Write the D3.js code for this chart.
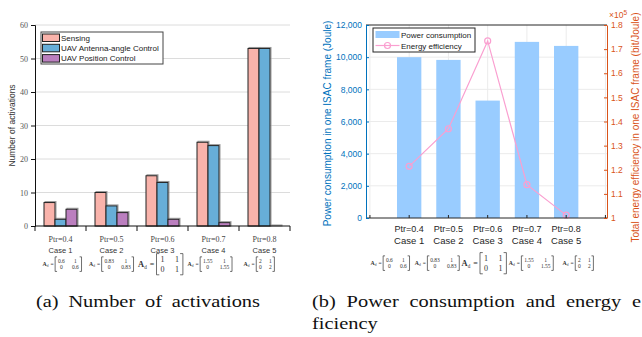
<!DOCTYPE html>
<html>
<head>
<meta charset="utf-8">
<script src="https://cdn.jsdelivr.net/npm/d3@7"></script>
<style>
  body { margin: 0; background: #fff; }
  svg { display: block; }
</style>
</head>
<body>
<svg id="chart" width="642" height="337"></svg>
<script>
// shared categories
const cases = ['Case 1', 'Case 2', 'Case 3', 'Case 4', 'Case 5'];
const ptrLabels = ['Ptr=0.4', 'Ptr=0.5', 'Ptr=0.6', 'Ptr=0.7', 'Ptr=0.8'];
// A_d matrices, row-major
const matrices = [
    ['0.6', '1', '0', '0.6'],
    ['0.83', '1', '0', '0.83'],
    ['1', '1', '0', '1'],
    ['1.55', '1', '0', '1.55'],
    ['2', '1', '0', '2']
];

// (a) number of activations
const seriesNames = ['Sensing', 'UAV Antenna-angle Control', 'UAV Position Control'];
const sensing = [7, 10, 15, 25, 53];
const antenna = [2, 6, 13, 24, 53];
const position = [5, 4, 2, 1, 0];
const activationTicks = [0, 10, 20, 30, 40, 50, 60];

// (b) power consumption + energy efficiency (x 10^5)
const power = [10000, 9830, 7300, 10950, 10700];
const efficiency = [1.214, 1.370, 1.734, 1.138, 1.012];
const powerTicks = [0, 2000, 4000, 6000, 8000, 10000, 12000];
const effTicks = [1, 1.1, 1.2, 1.3, 1.4, 1.5, 1.6, 1.7, 1.8];

const svg = d3.select('#chart');
const SANS = '"Liberation Sans", Arial, sans-serif';
const SERIF = '"Liberation Serif", "Times New Roman", serif';

// draws  A_d = [a b; c d]  centred on cx, cy
function drawMatrix(g, cx, cy, m, fs) {
    const cw = v => d3.sum(v.split(''), ch => ch === '.' ? 0.25 : 0.5) * fs;
    const col1 = Math.max(cw(m[0]), cw(m[2]));
    const col2 = Math.max(cw(m[1]), cw(m[3]));
    const labelW = fs * 2.3, gap = fs * 1.3, pad = fs * 0.5;
    const matW = pad + col1 + gap + col2 + pad;
    const x0 = cx - (labelW + matW) / 2;
    const grp = g.append('g').attr('fill', '#333').style('font-family', SERIF);

    const lab = grp.append('text').attr('x', x0).attr('y', cy + fs * 0.35)
        .style('font-size', (fs * 1.05) + 'px');
    lab.append('tspan').style('font-weight', 'bold').text('A');
    lab.append('tspan').attr('dy', fs * 0.25).style('font-size', (fs * 0.65) + 'px').text('d');
    grp.append('text').attr('x', x0 + fs * 1.45).attr('y', cy + fs * 0.35)
        .style('font-size', fs + 'px').text('=');

    const xl = x0 + labelW, xr = xl + matW;
    const top = cy - fs * 1.3, bot = cy + fs * 1.35, s = fs * 0.35;
    grp.append('path').attr('fill', 'none').attr('stroke', '#333').attr('stroke-width', 0.7)
        .attr('d', `M${xl + s},${top}H${xl}V${bot}H${xl + s}M${xr - s},${top}H${xr}V${bot}H${xr - s}`);

    const c1 = xl + pad + col1 / 2, c2 = xr - pad - col2 / 2;
    const rows = [cy - fs * 0.25, cy + fs * 0.95];
    [[c1, rows[0], m[0]], [c2, rows[0], m[1]], [c1, rows[1], m[2]], [c2, rows[1], m[3]]]
        .forEach(([x, y, t]) => grp.append('text').attr('x', x).attr('y', y)
            .attr('text-anchor', 'middle').style('font-size', fs + 'px').text(t));
}

// ################ (a) Number of activations ################
const A = { left: 35, right: 290, top: 25, bottom: 226 };
const ga = svg.append('g');

const xa = d3.scaleBand().domain(cases).range([A.left, A.right]);
const xs = d3.scaleBand().domain(seriesNames).range([9, xa.bandwidth() - 9]);
const ya = d3.scaleLinear().domain([0, 60]).range([A.bottom, A.top]);
const colorsA = ['#f9b3ab', '#67aed8', '#bb7fbf'];

// grid
ga.append('g').selectAll('line').data(activationTicks.slice(1)).enter().append('line')
    .attr('x1', A.left).attr('x2', A.right)
    .attr('y1', d => ya(d)).attr('y2', d => ya(d))
    .attr('stroke', '#dcdcdc').attr('stroke-width', 1);

const tableA = cases.map((c, i) => ({ c, vals: [sensing[i], antenna[i], position[i]] }));
const groups = ga.append('g').selectAll('g').data(tableA).enter().append('g')
    .attr('transform', d => `translate(${xa(d.c)},0)`);
// soft shadow behind each bar, then the bar
groups.selectAll('.shadow').data(d => d.vals.map((v, k) => ({ v, k }))).enter().append('rect')
    .attr('class', 'shadow')
    .attr('x', d => xs(seriesNames[d.k]) + 1)
    .attr('y', d => ya(d.v) - 1)
    .attr('width', xs.bandwidth())
    .attr('height', d => ya(0) - ya(d.v) + 1)
    .attr('fill', 'none').attr('stroke', '#999').attr('stroke-width', 1);
groups.selectAll('.bar').data(d => d.vals.map((v, k) => ({ v, k }))).enter().append('rect')
    .attr('class', 'bar')
    .attr('x', d => xs(seriesNames[d.k]))
    .attr('y', d => ya(d.v))
    .attr('width', xs.bandwidth())
    .attr('height', d => ya(0) - ya(d.v))
    .attr('fill', d => colorsA[d.k])
    .attr('stroke', '#222').attr('stroke-width', 1);

// y axis
const yAxisA = ga.append('g').attr('transform', `translate(${A.left},0)`)
    .call(d3.axisLeft(ya).tickValues(activationTicks).tickSize(4).tickPadding(3));
yAxisA.select('.domain').attr('stroke', '#111');
yAxisA.selectAll('.tick line').attr('stroke', '#111');
yAxisA.selectAll('text').style('font-family', SERIF).style('font-size', '8px').attr('fill', '#555');

// x axis: line + ticks on group boundaries
ga.append('line').attr('x1', A.left).attr('x2', A.right).attr('y1', A.bottom).attr('y2', A.bottom)
    .attr('stroke', '#111');
ga.append('g').selectAll('line').data(cases.map(c => xa(c)).concat([A.right])).enter().append('line')
    .attr('x1', d => d).attr('x2', d => d).attr('y1', A.bottom).attr('y2', A.bottom + 5)
    .attr('stroke', '#111');

cases.forEach((c, i) => {
    const cx = xa(c) + xa.bandwidth() / 2;
    ga.append('text').attr('x', cx).attr('y', 242).attr('text-anchor', 'middle')
        .style('font-family', SERIF).style('font-size', '8px').attr('fill', '#444').text(ptrLabels[i]);
    ga.append('text').attr('x', cx).attr('y', 253).attr('text-anchor', 'middle')
        .style('font-family', SANS).style('font-size', '7.5px').attr('fill', '#333').text(c);
});
const mxA = d3.scalePoint().domain(cases).range([62, 259]);
cases.forEach((c, i) => drawMatrix(ga, mxA(c), 264, matrices[i], i === 2 ? 8 : 5.5));

ga.append('text').attr('transform', `translate(15,${(A.top + A.bottom) / 2}) rotate(-90)`)
    .attr('text-anchor', 'middle').style('font-family', SANS).style('font-size', '8.5px')
    .attr('fill', '#333').text('Number of activations');

// legend
const legA = ga.append('g').attr('transform', 'translate(41,32)');
legA.append('rect').attr('width', 122).attr('height', 32).attr('fill', '#fff')
    .attr('stroke', '#444').attr('stroke-width', 1);
seriesNames.forEach((n, k) => {
    legA.append('rect').attr('x', 1.5).attr('y', 2 + k * 10.3).attr('width', 17).attr('height', 7.5)
        .attr('fill', colorsA[k]).attr('stroke', '#222').attr('stroke-width', 1);
    legA.append('text').attr('x', 20).attr('y', 8.8 + k * 10.3)
        .style('font-family', SANS).style('font-size', '8px').attr('fill', '#222').text(n);
});

// ################ (b) Power consumption / energy efficiency ################
const B = { left: 366, right: 607, top: 25, bottom: 218 };
const gb = svg.append('g');
const blue = '#0072BD', orange = '#D95319';

const xb = d3.scaleLinear().domain([-0.1, 6.04]).range([B.left, B.right]);
const yb = d3.scaleLinear().domain([0, 12000]).range([B.bottom, B.top]);
const yb2 = d3.scaleLinear().domain([1, 1.8]).range([B.bottom, B.top]);
const xTicksB = d3.range(0, 7);
const pos = cases.map((c, i) => i + 1);

// grid
gb.append('g').selectAll('line').data(powerTicks.slice(1, -1)).enter().append('line')
    .attr('x1', B.left).attr('x2', B.right).attr('y1', d => yb(d)).attr('y2', d => yb(d))
    .attr('stroke', '#ebebeb');
gb.append('g').selectAll('line').data(xTicksB).enter().append('line')
    .attr('x1', d => xb(d)).attr('x2', d => xb(d)).attr('y1', B.top).attr('y2', B.bottom)
    .attr('stroke', '#ebebeb');

// bars
const barW = xb(0.62) - xb(0);
gb.append('g').selectAll('rect').data(power).enter().append('rect')
    .attr('x', (d, i) => xb(pos[i]) - barW / 2)
    .attr('y', d => yb(d))
    .attr('width', barW)
    .attr('height', d => yb(0) - yb(d))
    .attr('fill', '#99ccff');

// line
const pink = '#fa9fd0';
gb.append('path').datum(efficiency)
    .attr('fill', 'none').attr('stroke', pink).attr('stroke-width', 1.2)
    .attr('d', d3.line().x((d, i) => xb(pos[i])).y(d => yb2(d)));
gb.append('g').selectAll('circle').data(efficiency).enter().append('circle')
    .attr('cx', (d, i) => xb(pos[i])).attr('cy', d => yb2(d)).attr('r', 3)
    .attr('fill', 'none').attr('stroke', pink).attr('stroke-width', 1.2);

// box: top + bottom
gb.append('line').attr('x1', B.left).attr('x2', B.right).attr('y1', B.top).attr('y2', B.top)
    .attr('stroke', '#262626');
gb.append('line').attr('x1', B.left).attr('x2', B.right).attr('y1', B.bottom).attr('y2', B.bottom)
    .attr('stroke', '#262626');
gb.append('g').selectAll('line').data(xTicksB).enter().append('line')
    .attr('x1', d => xb(d)).attr('x2', d => xb(d)).attr('y1', B.bottom).attr('y2', B.bottom - 3)
    .attr('stroke', '#262626');

// left axis (ticks inward)
const yAxB = gb.append('g').attr('transform', `translate(${B.left},0)`)
    .call(d3.axisLeft(yb).tickValues(powerTicks).tickSizeInner(-3).tickSizeOuter(0).tickPadding(4));
yAxB.select('.domain').attr('stroke', blue);
yAxB.selectAll('.tick line').attr('stroke', blue);
yAxB.selectAll('text').style('font-family', SANS).style('font-size', '8.5px').attr('fill', blue);

// right axis
const yAxB2 = gb.append('g').attr('transform', `translate(${B.right},0)`)
    .call(d3.axisRight(yb2).tickValues(effTicks)
        .tickFormat(d => (d === 1 ? '1' : d3.format('.1f')(d)))
        .tickSizeInner(-3).tickSizeOuter(0).tickPadding(4));
yAxB2.select('.domain').attr('stroke', orange);
yAxB2.selectAll('.tick line').attr('stroke', orange);
yAxB2.selectAll('text').style('font-family', SANS).style('font-size', '8.5px').attr('fill', orange);

const expo = gb.append('text').attr('x', 609).attr('y', 18)
    .style('font-family', SANS).style('font-size', '8.5px').attr('fill', orange);
expo.append('tspan').text('\u00d710');
expo.append('tspan').attr('dy', -3).style('font-size', '6.5px').text('5');

// category labels
cases.forEach((c, i) => {
    gb.append('text').attr('x', xb(pos[i])).attr('y', 231.5).attr('text-anchor', 'middle')
        .style('font-family', SANS).style('font-size', '9px').attr('fill', '#262626').text(ptrLabels[i]);
    gb.append('text').attr('x', xb(pos[i])).attr('y', 244).attr('text-anchor', 'middle')
        .style('font-family', SANS).style('font-size', '9.5px').attr('fill', '#262626').text(c);
});
const mxB = d3.scalePoint().domain(cases).range([390, 578]);
cases.forEach((c, i) => drawMatrix(gb, mxB(c), 263, matrices[i], i === 2 ? 8 : 5.5));

// axis titles
gb.append('text').attr('transform', `translate(331,${(B.top + B.bottom) / 2 + 2}) rotate(-90)`)
    .attr('text-anchor', 'middle').style('font-family', SANS).style('font-size', '10px')
    .attr('fill', blue).text('Power consumption in one ISAC frame (Joule)');
gb.append('text').attr('transform', `translate(639,${(B.top + B.bottom) / 2 + 6}) rotate(-90)`)
    .attr('text-anchor', 'middle').style('font-family', SANS).style('font-size', '10px')
    .attr('fill', orange).text('Total energy efficiency in one ISAC frame (bit/Joule)');

// legend
const legB = gb.append('g').attr('transform', 'translate(373,28)');
legB.append('rect').attr('width', 102).attr('height', 24).attr('fill', '#fff')
    .attr('stroke', '#262626').attr('stroke-width', 1);
legB.append('rect').attr('x', 2.5).attr('y', 3).attr('width', 24).attr('height', 7)
    .attr('fill', '#99ccff');
legB.append('line').attr('x1', 2.5).attr('x2', 26.5).attr('y1', 17.5).attr('y2', 17.5)
    .attr('stroke', pink).attr('stroke-width', 1.2);
legB.append('circle').attr('cx', 14.5).attr('cy', 17.5).attr('r', 3)
    .attr('fill', 'none').attr('stroke', pink).attr('stroke-width', 1.2);
['Power consumption', 'Energy efficiency'].forEach((t, k) => {
    legB.append('text').attr('x', 28).attr('y', 9.5 + k * 11)
        .style('font-family', SANS).style('font-size', '8px').attr('fill', '#222').text(t);
});

// ################ captions ################
// caption lines are justified and a little stretched sideways
const CAP = 17, SX = 1.2;
function caption(x, y, txt, width) {
    const g = svg.append('g').attr('transform', `translate(${x},${y}) scale(${SX},1)`);
    const t = g.append('text').attr('x', 0).attr('y', 0)
        .style('font-family', SERIF).style('font-size', CAP + 'px').attr('fill', '#111').text(txt);
    if (width) {
        const words = txt.split(' ').length - 1;
        const w = t.node().getComputedTextLength();
        t.style('word-spacing', Math.max(0, (width / SX - w) / words) + 'px');
    }
    return t;
}
caption(36, 307, '(a) Number of activations', 224);
caption(312, 307, '(b) Power consumption and energy e', 329);
caption(312, 329, 'ficiency');
</script>
</body>
</html>
